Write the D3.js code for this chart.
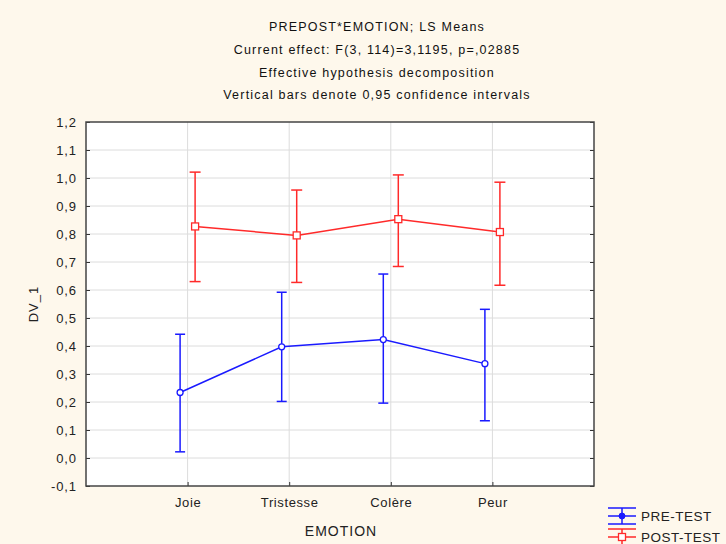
<!DOCTYPE html>
<html><head><meta charset="utf-8">
<script src="https://cdn.jsdelivr.net/npm/d3@7"></script>
<style>html,body{margin:0;padding:0;background:#fef8ec;}svg{display:block;font-family:Arial,"Liberation Sans",sans-serif;}</style>
</head><body>
<script>
const categories = ["Joie","Tristesse","Colère","Peur"];
const preMean  = [0.234, 0.397, 0.423, 0.337];
const preLow   = [0.022, 0.202, 0.196, 0.133];
const preHigh  = [0.442, 0.592, 0.657, 0.531];
const postMean = [0.827, 0.795, 0.853, 0.807];
const postLow  = [0.630, 0.627, 0.684, 0.617];
const postHigh = [1.021, 0.957, 1.011, 0.985];
const yTicks = [-0.1,0,0.1,0.2,0.3,0.4,0.5,0.6,0.7,0.8,0.9,1.0,1.1,1.2];
const titleLines = ["PREPOST*EMOTION; LS Means","Current effect: F(3, 114)=3,1195, p=,02885","Effective hypothesis decomposition","Vertical bars denote 0,95 confidence intervals"];
const seriesNames = ["PRE-TEST","POST-TEST"];

const W=726,H=544;
const L=86,R=594,T=122,B=486;
const FF="Arial,'Liberation Sans',sans-serif";
const svg=d3.select("body").append("svg").attr("width",W).attr("height",H);
svg.append("rect").attr("width",W).attr("height",H).attr("fill","#fef8ec");

const x=d3.scaleLinear().domain([0,categories.length+1]).range([L,R]);
const y=d3.scaleLinear().domain([-0.1,1.2]).range([B,T]);
const fmt=v=>d3.format(".1f")(v).replace(".",",").replace("−","-");

svg.append("rect").attr("x",L).attr("y",T).attr("width",R-L).attr("height",B-T).attr("fill","#fff");
// grid
const g=svg.append("g");
yTicks.slice(1,-1).forEach(v=>{
  g.append("line").attr("x1",L).attr("x2",R).attr("y1",y(v)).attr("y2",y(v)).attr("stroke","#dcdcdc").attr("stroke-width",1);
});
categories.forEach((c,i)=>{
  g.append("line").attr("x1",x(i+1)).attr("x2",x(i+1)).attr("y1",T).attr("y2",B).attr("stroke","#dcdcdc").attr("stroke-width",1);
});
// axes (inside ticks)
const ya=svg.append("g").attr("transform",`translate(${L},0)`)
  .call(d3.axisLeft(y).tickValues(yTicks).tickSizeInner(-4).tickSizeOuter(0).tickPadding(9).tickFormat(fmt));
ya.select(".domain").remove();
ya.selectAll("line").attr("stroke","#333");
ya.selectAll("text").attr("font-size",13).attr("letter-spacing",0.9).attr("fill","#222").attr("font-family",FF);
const ya2=svg.append("g").attr("transform",`translate(${R},0)`)
  .call(d3.axisRight(y).tickValues(yTicks).tickSizeInner(-4).tickSizeOuter(0).tickFormat(""));
ya2.select(".domain").remove(); ya2.selectAll("line").attr("stroke","#333");
const xa=svg.append("g").attr("transform",`translate(0,${B})`)
  .call(d3.axisBottom(x).tickValues(categories.map((c,i)=>i+1)).tickSizeInner(-4).tickSizeOuter(0).tickPadding(12).tickFormat(d=>categories[d-1]));
xa.select(".domain").remove(); xa.selectAll("line").attr("stroke","#333");
xa.selectAll("text").attr("font-size",13).attr("letter-spacing",0.6).attr("fill","#222").attr("font-family",FF);
svg.append("rect").attr("x",L).attr("y",T).attr("width",R-L).attr("height",B-T).attr("fill","none").attr("stroke","#444").attr("stroke-width",1.5);

// titles
titleLines.forEach((t,i)=>{
  svg.append("text").attr("x",377).attr("y",31+i*22.8).attr("text-anchor","middle").attr("font-size",12.5).attr("letter-spacing",1.2).attr("fill","#111").text(t);
});
svg.append("text").attr("x",341).attr("y",536).attr("text-anchor","middle").attr("font-size",14).attr("letter-spacing",1).attr("fill","#222").text("EMOTION");
svg.append("text").attr("transform",`translate(38,${(T+B)/2}) rotate(-90)`).attr("text-anchor","middle").attr("font-size",13).attr("letter-spacing",1).attr("fill","#222").text("DV_1");

const series=[
  {name:seriesNames[0],mean:preMean,low:preLow,high:preHigh,color:"#1a1aff",off:-7.5,marker:"circle",cap:10},
  {name:seriesNames[1],mean:postMean,low:postLow,high:postHigh,color:"#ff2a2a",off:7.5,marker:"square",cap:11}
];
series.forEach(s=>{
  const sg=svg.append("g");
  const pts=s.mean.map((m,i)=>({x:x(i+1)+s.off,m,lo:s.low[i],hi:s.high[i]}));
  sg.append("path").attr("d",d3.line().x(d=>d.x).y(d=>y(d.m))(pts)).attr("fill","none").attr("stroke",s.color).attr("stroke-width",1.5);
  pts.forEach(d=>{
    sg.append("line").attr("x1",d.x).attr("x2",d.x).attr("y1",y(d.lo)).attr("y2",y(d.hi)).attr("stroke",s.color).attr("stroke-width",1.5);
    [d.lo,d.hi].forEach(v=>sg.append("line").attr("x1",d.x-s.cap/2).attr("x2",d.x+s.cap/2).attr("y1",y(v)).attr("y2",y(v)).attr("stroke",s.color).attr("stroke-width",1.5));
    if(s.marker==="circle") sg.append("circle").attr("cx",d.x).attr("cy",y(d.m)).attr("r",3).attr("fill","#fff").attr("stroke",s.color).attr("stroke-width",1.3);
    else sg.append("rect").attr("x",d.x-3.5).attr("y",y(d.m)-3.5).attr("width",7).attr("height",7).attr("fill","#fff").attr("stroke",s.color).attr("stroke-width",1.3);
  });
});
// legend
series.forEach((s,i)=>{
  const cy=516+i*21;
  const lg=svg.append("g");
  [-8,0,8].forEach(dy=>lg.append("line").attr("x1",608).attr("x2",636).attr("y1",cy+dy).attr("y2",cy+dy).attr("stroke",s.color).attr("stroke-width",1.5));
  lg.append("line").attr("x1",622).attr("x2",622).attr("y1",cy-8).attr("y2",cy+8).attr("stroke",s.color).attr("stroke-width",1.5);
  if(s.marker==="circle") lg.append("circle").attr("cx",622).attr("cy",cy).attr("r",3).attr("fill",s.color).attr("stroke",s.color);
  else lg.append("rect").attr("x",618.5).attr("y",cy-3.5).attr("width",7).attr("height",7).attr("fill","#fff").attr("stroke",s.color).attr("stroke-width",1.3);
  lg.append("text").attr("x",641).attr("y",cy+5).attr("font-size",13.5).attr("letter-spacing",0.5).attr("fill","#222").text(s.name);
});
</script>
</body></html>
